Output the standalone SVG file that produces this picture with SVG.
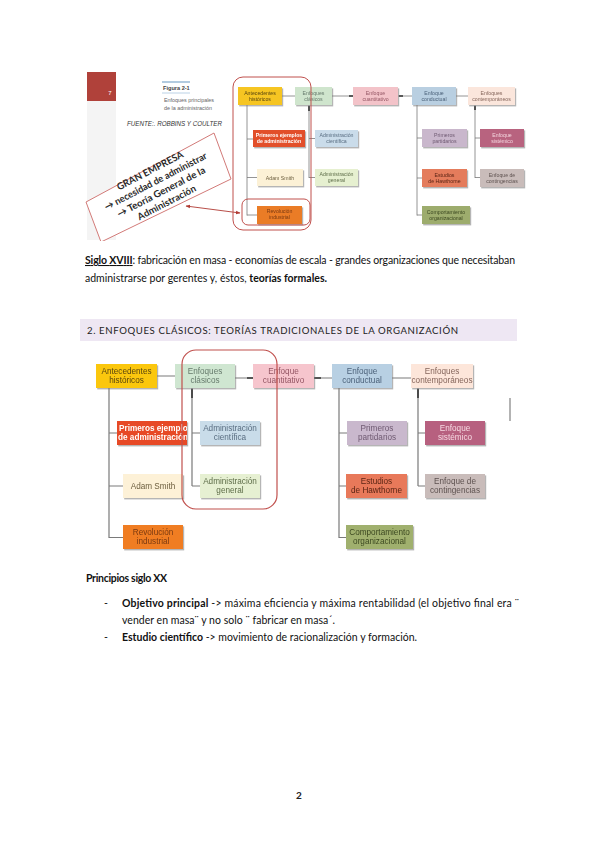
<svg xmlns="http://www.w3.org/2000/svg" width="599" height="848" viewBox="0 0 599 848">
<style>
.body{font-family:Lato,"Liberation Sans",sans-serif;font-size:10.5px;fill:#111}
.b{font-weight:bold}
.t{font-family:"Liberation Sans",Arial,sans-serif;font-size:5.2px;text-anchor:middle}
.u{font-family:"Liberation Sans",Arial,sans-serif;font-size:8.2px;text-anchor:middle}
.c{fill:none;stroke:#7a7a7a;stroke-width:0.8}
.c2{fill:none;stroke:#7a7a7a;stroke-width:1.2}
.dk{stroke:#333;stroke-width:1.6}
.red{fill:none;stroke:#c0504d}
.box{filter:url(#sh)}
</style>
<defs>
<filter id="sh" x="-10%" y="-10%" width="130%" height="140%">
<feDropShadow dx="1.2" dy="1.4" stdDeviation="0.7" flood-color="#777" flood-opacity="0.55"/>
</filter>
<marker id="ah" viewBox="0 0 10 10" refX="9" refY="5" markerWidth="5" markerHeight="5" orient="auto-start-reverse">
<path d="M0,1 L10,5 L0,9 z" fill="#b03a33"/>
</marker>
<clipPath id="clipPE"><rect x="117" y="421" width="70" height="24"/></clipPath>
<clipPath id="clipTop"><rect x="80" y="65" width="460" height="176"/></clipPath>
</defs>
<rect width="599" height="848" fill="#fff"/>

<!-- ===== TOP FIGURE ===== -->
<g id="top-figure">
<rect x="87" y="101" width="29" height="139" fill="#f4f4f4"/>
<rect x="87" y="72" width="29" height="29" fill="#b0413a"/>
<text x="110" y="95" font-family="Liberation Sans,sans-serif" font-size="6" fill="#fff" text-anchor="middle">7</text>
<line x1="162" y1="82" x2="190" y2="82" stroke="#7fa8cc" stroke-width="1.2"/>
<text x="163" y="90" font-family="Liberation Sans,sans-serif" font-size="5.6" font-weight="bold" fill="#444">Figura 2-1</text>
<line x1="162" y1="93" x2="190" y2="93" stroke="#a9c6df" stroke-width="0.8"/>
<text x="164" y="102" font-family="Liberation Sans,sans-serif" font-size="5.4" fill="#666">Enfoques principales</text>
<text x="164" y="110" font-family="Liberation Sans,sans-serif" font-size="5.4" fill="#666">de la administración</text>
<text x="127" y="126" font-family="Liberation Sans,sans-serif" font-size="6.4" font-style="italic" fill="#333" textLength="95" lengthAdjust="spacingAndGlyphs">FUENTE:. ROBBINS Y COULTER</text>

<g clip-path="url(#clipTop)">
<polygon points="86,202 214,133 231,179 101,242" fill="#fff" stroke="#d27a78" stroke-width="1"/>
<g transform="translate(158,186) rotate(-27.5)" font-family="Lato,'Liberation Sans',sans-serif" font-weight="bold" font-size="9.6" fill="#2a2a2a" text-anchor="middle">
<text x="0" y="-14">GRAN EMPRESA</text>
<text x="0" y="-2" textLength="114" lengthAdjust="spacingAndGlyphs">→ necesidad de administrar</text>
<text x="0" y="10" textLength="98" lengthAdjust="spacingAndGlyphs">→ Teoría General de la</text>
<text x="0" y="22">Administración</text>
</g>
</g>
<line x1="186" y1="206" x2="240" y2="213" stroke="#b03a33" stroke-width="0.9" marker-start="url(#ah)" marker-end="url(#ah)"/>

<g id="top-connectors">
<path class="c" d="M247,105 V215.5 M247,139 H253 M247,177.5 H257 M247,215 H257"/>
<path class="c" d="M282,96 H295 M332,96 H353 M398,96 H412 M456,96 H468"/>
<path class="c" d="M309,105 V178 M309,138.5 H315 M309,177.5 H315"/>
<path class="c" d="M417,105 V215.5 M417,138 H422 M417,178 H422 M417,215 H422"/>
<path class="c" d="M475,105 V178 M475,138 H480 M475,177.5 H480"/>
<path class="dk" d="M349,96 H353 M399,96 H403 M309,106 V111 M475,106 V110" stroke-width="1.1"/>
</g>

<g id="t-antecedentes" class="box"><rect x="238" y="87" width="44" height="18" fill="#f6c523"/><text class="t" fill="#5a4610"><tspan x="260" y="94.5">Antecedentes</tspan><tspan x="260" y="100.5">históricos</tspan></text></g>
<g id="t-clasicos" class="box"><rect x="295" y="87" width="37" height="18" fill="#cfe5cd"/><text class="t" fill="#667a6c"><tspan x="313.5" y="94.5">Enfoques</tspan><tspan x="313.5" y="100.5">clásicos</tspan></text></g>
<g id="t-cuantitativo" class="box"><rect x="353" y="87" width="45" height="18" fill="#f3c3c9"/><text class="t" fill="#945664"><tspan x="375.5" y="94.5">Enfoque</tspan><tspan x="375.5" y="100.5">cuantitativo</tspan></text></g>
<g id="t-conductual" class="box"><rect x="412" y="87" width="44" height="18" fill="#b9cfe1"/><text class="t" fill="#4c627a"><tspan x="434" y="94.5">Enfoque</tspan><tspan x="434" y="100.5">conductual</tspan></text></g>
<g id="t-contemporaneos" class="box"><rect x="468" y="87" width="47" height="18" fill="#fbe6dc"/><text class="t" fill="#85665c"><tspan x="491.5" y="94.5">Enfoques</tspan><tspan x="491.5" y="100.5">contemporáneos</tspan></text></g>
<g id="t-primeros-ejemplos" class="box"><rect x="253" y="130" width="52" height="17" fill="#e2502b"/><text class="t" fill="#fff" font-weight="bold"><tspan x="279" y="137">Primeros ejemplos</tspan><tspan x="279" y="143">de administración</tspan></text></g>
<g id="t-adm-cientifica" class="box"><rect x="315" y="130" width="43" height="17" fill="#cadcea"/><text class="t" fill="#5a6e82"><tspan x="336.5" y="137">Administración</tspan><tspan x="336.5" y="143">científica</tspan></text></g>
<g id="t-adam-smith" class="box"><rect x="257" y="169" width="46" height="17" fill="#fcf1d6"/><text class="t" fill="#6e6040"><tspan x="280" y="179.5">Adam Smith</tspan></text></g>
<g id="t-adm-general" class="box"><rect x="315" y="169" width="43" height="17" fill="#e6f0d0"/><text class="t" fill="#5f6e4a"><tspan x="336.5" y="176">Administración</tspan><tspan x="336.5" y="182">general</tspan></text></g>
<g id="t-revolucion" class="box"><rect x="257" y="206" width="45" height="18" fill="#ea7b28"/><text class="t" fill="#7a3a10"><tspan x="279.5" y="213">Revolución</tspan><tspan x="279.5" y="219">industrial</tspan></text></g>
<g id="t-partidarios" class="box"><rect x="422" y="129" width="45" height="18" fill="#c9b7cc"/><text class="t" fill="#6f5a72"><tspan x="444.5" y="136.5">Primeros</tspan><tspan x="444.5" y="142.5">partidarios</tspan></text></g>
<g id="t-hawthorne" class="box"><rect x="422" y="169" width="45" height="18" fill="#e47b5b"/><text class="t" fill="#5a2414"><tspan x="444.5" y="176.5">Estudios</tspan><tspan x="444.5" y="182.5">de Hawthorne</tspan></text></g>
<g id="t-comportamiento" class="box"><rect x="422" y="206" width="48" height="18" fill="#9dac6d"/><text class="t" fill="#3c4820"><tspan x="446" y="213.5">Comportamiento</tspan><tspan x="446" y="219.5">organizacional</tspan></text></g>
<g id="t-sistemico" class="box"><rect x="480" y="129" width="44" height="18" fill="#b8637f"/><text class="t" fill="#f4d6df"><tspan x="502" y="136.5">Enfoque</tspan><tspan x="502" y="142.5">sistémico</tspan></text></g>
<g id="t-contingencias" class="box"><rect x="480" y="169" width="44" height="18" fill="#c9bcba"/><text class="t" fill="#5e5250"><tspan x="502" y="176.5">Enfoque de</tspan><tspan x="502" y="182.5">contingencias</tspan></text></g>

<rect class="red" x="233" y="77" width="78" height="153" rx="10" stroke-width="1"/>
<rect class="red" x="242" y="199" width="68" height="26" rx="6" stroke-width="1"/>
</g>

<!-- ===== TEXT ===== -->
<text class="body" x="85" y="264" textLength="430"><tspan class="b" text-decoration="underline">Siglo XVIII</tspan>: fabricación en masa - economías de escala - grandes organizaciones que necesitaban</text>
<text class="body" x="85" y="282" textLength="242">administrarse por gerentes y, éstos, <tspan class="b">teorías formales.</tspan></text>

<rect x="80" y="319" width="437" height="22" fill="#eee7f3"/>
<text x="87" y="334" font-family="Lato,'Liberation Sans',sans-serif" font-size="9.6" fill="#222" textLength="371">2. ENFOQUES CLÁSICOS: TEORÍAS TRADICIONALES DE LA ORGANIZACIÓN</text>

<!-- ===== BOTTOM FIGURE ===== -->
<g id="bottom-connectors">
<path class="c2" d="M109,388 V538 M109,433 H117 M109,486 H123 M109,537.5 H123"/>
<path class="c2" d="M157,376 H175 M235,378 H253 M314,378 H332 M392,378 H411"/>
<path class="c2" d="M192,388 V486 M192,433 H200 M192,486 H200"/>
<path class="c2" d="M339,388 V538 M339,433 H347 M339,486 H346 M339,537.5 H346"/>
<path class="c2" d="M418,388 V486 M418,433 H425 M418,486 H425"/>
<path class="dk" d="M247,378 H253 M314,378 H321 M192,389 V398 M418,389 V398"/>
</g>

<g id="b-antecedentes" class="box"><rect x="96" y="364" width="61" height="24" fill="#fbc70f"/><text class="u" fill="#5a4610"><tspan x="126.5" y="374">Antecedentes</tspan><tspan x="126.5" y="383">históricos</tspan></text></g>
<g id="b-clasicos" class="box"><rect x="175" y="364" width="60" height="24" fill="#cfe6d1"/><text class="u" fill="#667a6c"><tspan x="205" y="374">Enfoques</tspan><tspan x="205" y="383">clásicos</tspan></text></g>
<g id="b-cuantitativo" class="box"><rect x="253" y="364" width="61" height="24" fill="#f6c5cd"/><text class="u" fill="#945664"><tspan x="283.5" y="374">Enfoque</tspan><tspan x="283.5" y="383">cuantitativo</tspan></text></g>
<g id="b-conductual" class="box"><rect x="332" y="364" width="60" height="24" fill="#b8d0e3"/><text class="u" fill="#4c627a"><tspan x="362" y="374">Enfoque</tspan><tspan x="362" y="383">conductual</tspan></text></g>
<g id="b-contemporaneos" class="box"><rect x="411" y="364" width="62" height="24" fill="#fde6da"/><text class="u" fill="#85665c"><tspan x="442" y="374">Enfoques</tspan><tspan x="442" y="383">contemporáneos</tspan></text></g>
<g id="b-primeros-ejemplos" class="box"><rect x="117" y="421" width="70" height="24" fill="#e74a25"/><text class="u" fill="#fff" font-weight="bold" clip-path="url(#clipPE)" style="text-anchor:start"><tspan x="119" y="431">Primeros ejemplos</tspan><tspan x="118" y="440">de administración</tspan></text></g>
<g id="b-adm-cientifica" class="box"><rect x="200" y="421" width="60" height="24" fill="#c9dce9"/><text class="u" fill="#5a6e82"><tspan x="230" y="431">Administración</tspan><tspan x="230" y="440">científica</tspan></text></g>
<g id="b-adam-smith" class="box"><rect x="123" y="474" width="60" height="24" fill="#fdf1d7"/><text class="u" fill="#6e6040"><tspan x="153" y="489">Adam Smith</tspan></text></g>
<g id="b-adm-general" class="box"><rect x="200" y="474" width="60" height="24" fill="#e6f0d2"/><text class="u" fill="#5f6e4a"><tspan x="230" y="484">Administración</tspan><tspan x="230" y="493">general</tspan></text></g>
<g id="b-revolucion" class="box"><rect x="123" y="525" width="60" height="24" fill="#f07d23"/><text class="u" fill="#7a3a10"><tspan x="153" y="535">Revolución</tspan><tspan x="153" y="544">industrial</tspan></text></g>
<g id="b-partidarios" class="box"><rect x="347" y="421" width="60" height="24" fill="#c9b8cd"/><text class="u" fill="#6f5a72"><tspan x="377" y="431">Primeros</tspan><tspan x="377" y="440">partidarios</tspan></text></g>
<g id="b-hawthorne" class="box"><rect x="346" y="474" width="61" height="24" fill="#e8795a"/><text class="u" fill="#5a2414"><tspan x="376.5" y="484">Estudios</tspan><tspan x="376.5" y="493">de Hawthorne</tspan></text></g>
<g id="b-comportamiento" class="box"><rect x="346" y="525" width="67" height="24" fill="#a0b06e"/><text class="u" fill="#3c4820"><tspan x="379.5" y="535">Comportamiento</tspan><tspan x="379.5" y="544">organizacional</tspan></text></g>
<g id="b-sistemico" class="box"><rect x="425" y="421" width="60" height="24" fill="#b7607f"/><text class="u" fill="#f6d9e2"><tspan x="455" y="431">Enfoque</tspan><tspan x="455" y="440">sistémico</tspan></text></g>
<g id="b-contingencias" class="box"><rect x="425" y="474" width="60" height="24" fill="#c9bcba"/><text class="u" fill="#5e5250"><tspan x="455" y="484">Enfoque de</tspan><tspan x="455" y="493">contingencias</tspan></text></g>

<rect class="red" x="182" y="350" width="95" height="159" rx="14" stroke-width="1.2"/>
<line x1="510" y1="398" x2="510" y2="421" stroke="#9a9a9a" stroke-width="1.5"/>

<!-- ===== TEXT ===== -->
<text class="body b" x="86" y="582" textLength="81">Principios siglo XX</text>
<text class="body" x="104" y="607">-</text>
<text class="body" x="122" y="607" textLength="397"><tspan class="b">Objetivo principal</tspan> -&gt; máxima eficiencia y máxima rentabilidad (el objetivo final era ¨</text>
<text class="body" x="122" y="624" textLength="213">vender en masa¨ y no solo ¨ fabricar en masa´.</text>
<text class="body" x="104" y="641">-</text>
<text class="body" x="122" y="641" textLength="295"><tspan class="b">Estudio científico</tspan> -&gt; movimiento de racionalización y formación.</text>

<text x="299" y="799" font-family="Lato,'Liberation Sans',sans-serif" font-size="10" font-weight="bold" fill="#222" text-anchor="middle">2</text>
</svg>
